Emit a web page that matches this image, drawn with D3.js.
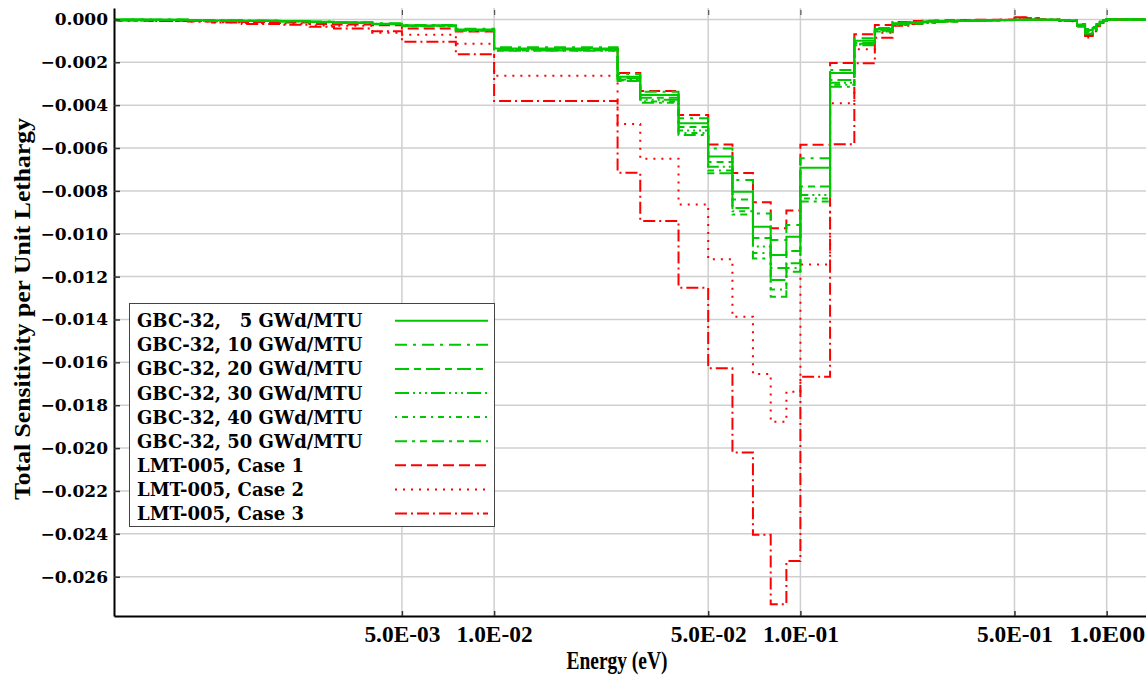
<!DOCTYPE html>
<html>
<head>
<meta charset="utf-8">
<script src="https://cdn.jsdelivr.net/npm/d3@7"></script>
<style>
  html, body { margin: 0; padding: 0; background: #fff; }
  svg { display: block; }
</style>
</head>
<body>
<svg id="chart" width="1146" height="677"></svg>
<script>
// Energy group boundaries (eV), lower edge of each group plus the final upper edge
const groupBounds = [5e-4, 7.5e-4, 1e-3, 1.2e-3, 1.5e-3, 2e-3, 2.5e-3, 3e-3, 4e-3, 5e-3, 7.5e-3,
  1e-2, 2.53e-2, 3e-2, 4e-2, 5e-2, 6e-2, 7e-2, 8e-2, 9e-2, 0.1, 0.125, 0.15, 0.175,
  0.2, 0.225, 0.25, 0.275, 0.3, 0.325, 0.35, 0.375, 0.4, 0.45,
  0.5, 0.55, 0.6, 0.625, 0.65, 0.7, 0.75,
  0.8, 0.85, 0.9, 0.925, 0.95, 0.975,
  1.0, 1.02, 1.05, 1.1, 1.2, 1.4];

// Sensitivity per unit lethargy for each group, in units of 1e-3
const gbc05 = [-0.01,-0.02,-0.04,-0.05,-0.06,-0.08,-0.11,-0.14,-0.20,-0.28,-0.47,
  -1.36,-2.67,-3.53,-4.85,-6.40,-8.04,-9.67,-10.99,-10.14,-6.92,-2.50,-1.00,-0.45,
  -0.18,-0.14,-0.10,-0.08,-0.07,-0.06,-0.05,-0.05,-0.04,-0.03,
  -0.02,-0.02,-0.02,-0.02,-0.02,-0.03,-0.04,
  -0.25,-0.50,-0.40,-0.22,-0.12,-0.05,
  -0.01,-0.01,0,0,0];
const gbc10 = [-0.01,-0.01,-0.03,-0.04,-0.05,-0.07,-0.10,-0.13,-0.18,-0.26,-0.44,
  -1.30,-2.55,-3.37,-4.61,-6.02,-7.49,-9.05,-10.29,-9.59,-6.48,-2.36,-0.88,-0.40,
  -0.15,-0.12,-0.09,-0.07,-0.06,-0.05,-0.05,-0.04,-0.03,-0.03,
  -0.02,-0.02,-0.02,-0.02,-0.02,-0.03,-0.04,
  -0.22,-0.45,-0.35,-0.20,-0.10,-0.04,
  -0.01,-0.01,0,0,0];
const gbc20 = [-0.02,-0.02,-0.04,-0.05,-0.06,-0.08,-0.12,-0.15,-0.21,-0.29,-0.49,
  -1.40,-2.74,-3.65,-5.02,-6.65,-8.40,-10.20,-11.60,-10.80,-7.80,-2.83,-1.10,-0.50,
  -0.20,-0.16,-0.12,-0.09,-0.08,-0.07,-0.06,-0.05,-0.04,-0.03,
  -0.02,-0.02,-0.02,-0.02,-0.02,-0.03,-0.04,
  -0.28,-0.55,-0.42,-0.25,-0.13,-0.05,
  -0.01,-0.01,0,0,0];
const gbc30 = [-0.02,-0.02,-0.05,-0.06,-0.07,-0.09,-0.12,-0.15,-0.22,-0.30,-0.50,
  -1.43,-2.80,-3.75,-5.18,-6.87,-8.80,-10.60,-12.16,-11.38,-8.19,-2.95,-1.14,-0.53,
  -0.22,-0.17,-0.13,-0.10,-0.09,-0.07,-0.06,-0.06,-0.05,-0.04,
  -0.03,-0.02,-0.02,-0.02,-0.02,-0.03,-0.04,
  -0.30,-0.60,-0.45,-0.27,-0.14,-0.05,
  -0.01,-0.01,0,0,0];
const gbc40 = [-0.02,-0.03,-0.05,-0.06,-0.07,-0.09,-0.13,-0.16,-0.22,-0.31,-0.52,
  -1.45,-2.84,-3.83,-5.30,-7.05,-8.95,-10.90,-12.60,-11.60,-8.35,-3.05,-1.17,-0.55,
  -0.24,-0.18,-0.14,-0.11,-0.09,-0.08,-0.07,-0.06,-0.05,-0.04,
  -0.03,-0.02,-0.02,-0.02,-0.02,-0.03,-0.04,
  -0.32,-0.63,-0.48,-0.29,-0.15,-0.06,
  -0.01,-0.01,0,0,0];
const gbc50 = [-0.03,-0.03,-0.05,-0.07,-0.08,-0.10,-0.13,-0.17,-0.23,-0.32,-0.53,
  -1.46,-2.87,-3.89,-5.39,-7.18,-9.10,-11.15,-12.94,-11.77,-8.50,-3.14,-1.20,-0.57,
  -0.26,-0.20,-0.15,-0.12,-0.10,-0.08,-0.07,-0.06,-0.05,-0.04,
  -0.03,-0.02,-0.02,-0.02,-0.02,-0.03,-0.04,
  -0.34,-0.67,-0.50,-0.30,-0.16,-0.06,
  -0.01,-0.01,0,0,0];
const lmtCase1 = [-0.05,-0.06,-0.08,-0.10,-0.12,-0.15,-0.22,-0.24,-0.27,-0.42,-0.57,
  -1.38,-2.50,-3.34,-4.46,-5.84,-7.16,-8.53,-9.74,-8.92,-5.85,-2.03,-0.69,-0.26,
  -0.12,-0.08,-0.06,-0.05,-0.04,-0.03,-0.03,-0.02,-0.02,-0.01,
  0.08,0.05,-0.01,-0.01,-0.02,-0.06,-0.08,
  -0.25,-0.72,-0.50,-0.30,-0.15,-0.05,
  0.02,0,0,0,0];
const lmtCase2 = [-0.05,-0.07,-0.10,-0.13,-0.17,-0.20,-0.28,-0.30,-0.62,-0.72,-1.13,
  -2.63,-4.88,-6.50,-8.63,-11.19,-13.87,-16.54,-18.77,-17.37,-11.43,-3.91,-1.39,-0.62,
  -0.25,-0.18,-0.14,-0.10,-0.08,-0.06,-0.05,-0.04,-0.03,-0.02,
  0.06,0.04,-0.01,-0.01,-0.02,-0.06,-0.09,
  -0.30,-0.85,-0.60,-0.35,-0.18,-0.05,
  0.01,0,0,0,0];
const lmtCase3 = [-0.05,-0.07,-0.10,-0.15,-0.21,-0.25,-0.34,-0.42,-0.55,-1.04,-1.63,
  -3.81,-7.15,-9.40,-12.52,-16.28,-20.20,-24.04,-27.29,-25.27,-16.67,-5.83,-2.05,-0.86,
  -0.30,-0.22,-0.16,-0.12,-0.10,-0.08,-0.06,-0.05,-0.04,-0.03,
  0.10,0.05,-0.01,-0.01,-0.02,-0.05,-0.08,
  -0.28,-0.78,-0.55,-0.32,-0.17,-0.05,
  0.01,0,0,0,0];

const seriesNames = ["GBC-32,   5 GWd/MTU", "GBC-32, 10 GWd/MTU", "GBC-32, 20 GWd/MTU",
  "GBC-32, 30 GWd/MTU", "GBC-32, 40 GWd/MTU", "GBC-32, 50 GWd/MTU",
  "LMT-005, Case 1", "LMT-005, Case 2", "LMT-005, Case 3"];

// Axis ticks
const xTickValues = [5e-3, 1e-2, 5e-2, 1e-1, 5e-1, 1];
const xTickLabels = ["5.0E-03", "1.0E-02", "5.0E-02", "1.0E-01", "5.0E-01", "1.0E00"];
const yTickValues = [0, -0.002, -0.004, -0.006, -0.008, -0.010, -0.012, -0.014,
  -0.016, -0.018, -0.020, -0.022, -0.024, -0.026];

// ---- styling ----
const GREEN = "#00c800", RED = "#ff0000";
const styles = [
  { values: gbc05, color: GREEN, dash: null },
  { values: gbc10, color: GREEN, dash: "12,6,3,6" },
  { values: gbc20, color: GREEN, dash: "14,5,7,5" },
  { values: gbc30, color: GREEN, dash: "14,4,2,4,2,4,2,4" },
  { values: gbc40, color: GREEN, dash: "2,5,6,5" },
  { values: gbc50, color: GREEN, dash: "12,5,3,5,7,5" },
  { values: lmtCase1, color: RED, dash: "11,5" },
  { values: lmtCase2, color: RED, dash: "2,6" },
  { values: lmtCase3, color: RED, dash: "12,4,2,4" }
];
const series = styles.map((s, i) => ({ ...s, name: seriesNames[i] }));

const plot = { left: 114, right: 1146, top: 8, bottom: 616 };
const svg = d3.select("#chart");

const x = d3.scaleLog().domain([5.74e-4, 1.344]).range([plot.left, plot.right]);
const y = d3.scaleLinear().domain([-0.027833, 0.000532]).range([plot.bottom, plot.top]);

svg.append("rect").attr("width", 1146).attr("height", 677).attr("fill", "#fff");

// grid
const grid = svg.append("g").attr("stroke", "#cfcfcf").attr("stroke-width", 1.5);
grid.selectAll("line.h").data(yTickValues).join("line")
  .attr("x1", plot.left).attr("x2", plot.right)
  .attr("y1", d => y(d)).attr("y2", d => y(d));
grid.selectAll("line.v").data(xTickValues).join("line")
  .attr("y1", plot.top).attr("y2", plot.bottom)
  .attr("x1", d => x(d)).attr("x2", d => x(d));

// clip
svg.append("clipPath").attr("id", "plotClip").append("rect")
  .attr("x", plot.left).attr("y", plot.top)
  .attr("width", plot.right - plot.left).attr("height", plot.bottom - plot.top);

const line = d3.line()
  .x(d => x(d[0]))
  .y(d => y(d[1] * 1e-3))
  .curve(d3.curveStepAfter);

function stepPoints(values) {
  const pts = values.map((v, i) => [groupBounds[i], v]);
  pts.push([groupBounds[values.length], values[values.length - 1]]);
  return pts;
}

// red curves underneath, green curves on top
const drawOrder = [6, 7, 8, 5, 4, 3, 2, 1, 0];
const curves = svg.append("g").attr("clip-path", "url(#plotClip)");
drawOrder.forEach(k => {
  const s = series[k];
  curves.append("path")
    .attr("d", line(stepPoints(s.values)))
    .attr("fill", "none")
    .attr("stroke", s.color)
    .attr("stroke-width", 2)
    .attr("stroke-dasharray", s.dash)
    .attr("stroke-linejoin", "miter");
});

// axes
const yAxis = d3.axisLeft(y).tickValues(yTickValues)
  .tickFormat(d3.format(".3f")).tickSize(-6).tickSizeOuter(0).tickPadding(6);
const gy = svg.append("g").attr("transform", `translate(${plot.left},0)`).call(yAxis);
gy.select(".domain").attr("stroke", "#000").attr("stroke-width", 2);
gy.selectAll(".tick line").attr("stroke", "#333").attr("stroke-width", 1.5);
gy.selectAll(".tick text")
  .attr("font-family", "DejaVu Serif").attr("font-weight", "bold")
  .attr("font-size", 17).attr("fill", "#000");

const xAxis = d3.axisBottom(x).tickValues(xTickValues)
  .tickFormat(d => xTickLabels[xTickValues.indexOf(d)])
  .tickSize(-5).tickSizeOuter(0).tickPadding(10);
const gx = svg.append("g").attr("transform", `translate(0,${plot.bottom})`).call(xAxis);
gx.select(".domain").attr("stroke", "#000").attr("stroke-width", 2);
gx.selectAll(".tick line").attr("stroke", "#333").attr("stroke-width", 1.5);
gx.selectAll(".tick text")
  .attr("font-family", "Liberation Serif").attr("font-weight", "bold")
  .attr("font-size", 23).attr("fill", "#000")
  .attr("textLength", 76).attr("lengthAdjust", "spacingAndGlyphs");

// small inward ticks along the top edge
const xTop = d3.axisTop(x).tickValues(xTickValues).tickFormat("").tickSize(-5).tickSizeOuter(0);
const gt = svg.append("g").attr("transform", `translate(0,${plot.top + 2})`).call(xTop);
gt.select(".domain").remove();
gt.selectAll(".tick line").attr("stroke", "#555").attr("stroke-width", 1.2);

// axis titles
svg.append("text")
  .attr("x", 617).attr("y", 669)
  .attr("text-anchor", "middle")
  .attr("font-family", "Liberation Serif").attr("font-weight", "bold")
  .attr("font-size", 26)
  .attr("textLength", 101).attr("lengthAdjust", "spacingAndGlyphs")
  .text("Energy (eV)");
svg.append("text")
  .attr("transform", "translate(30,309) rotate(-90)")
  .attr("text-anchor", "middle")
  .attr("font-family", "Liberation Serif").attr("font-weight", "bold")
  .attr("font-size", 24)
  .attr("textLength", 382).attr("lengthAdjust", "spacingAndGlyphs")
  .text("Total Sensitivity per Unit Lethargy");

// legend
const lg = svg.append("g");
lg.append("rect")
  .attr("x", 129.5).attr("y", 303.5).attr("width", 365).attr("height", 223)
  .attr("fill", "#fff").attr("stroke", "#444").attr("stroke-width", 1);
series.forEach((s, i) => {
  const cy = 320.7 + i * 24.1;
  lg.append("text")
    .attr("x", 137).attr("y", cy + 6.5)
    .attr("font-family", "DejaVu Serif").attr("font-weight", "bold")
    .attr("font-size", 18)
    .style("white-space", "pre")
    .text(s.name);
  lg.append("line")
    .attr("x1", 395).attr("x2", 488).attr("y1", cy).attr("y2", cy)
    .attr("stroke", s.color).attr("stroke-width", 2)
    .attr("stroke-dasharray", s.dash);
});
</script>
</body>
</html>
